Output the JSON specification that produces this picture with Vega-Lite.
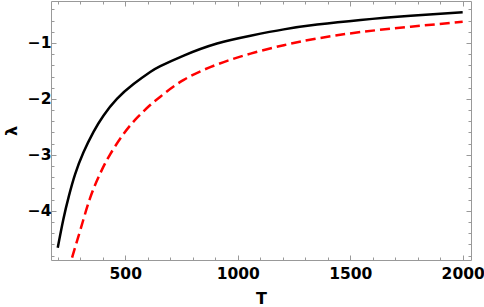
{
  "$schema": "https://vega.github.io/schema/vega-lite/v6.json",
  "width": 420,
  "height": 259,
  "autosize": "none",
  "padding": {"left": 51, "top": 1, "right": 13, "bottom": 47},
  "config": {
    "view": {"stroke": "#999999", "strokeWidth": 1},
    "axis": {
      "domain": false,
      "grid": false,
      "tickColor": "#999999",
      "tickWidth": 1,
      "labelFont": "DejaVu Sans",
      "labelFontWeight": "bold",
      "labelFontSize": 15.5,
      "labelColor": "#000000",
      "titleFont": "DejaVu Sans",
      "titleFontWeight": "bold",
      "titleFontSize": 16,
      "titleColor": "#000000"
    }
  },
  "datasets": {
    "black": [
      {"T": 200, "lam": -4.66},
      {"T": 225, "lam": -4.15},
      {"T": 250, "lam": -3.73},
      {"T": 277, "lam": -3.35},
      {"T": 314, "lam": -2.96},
      {"T": 359, "lam": -2.59},
      {"T": 403, "lam": -2.3},
      {"T": 463, "lam": -2.0},
      {"T": 537, "lam": -1.735},
      {"T": 611, "lam": -1.52},
      {"T": 656, "lam": -1.415},
      {"T": 760, "lam": -1.225},
      {"T": 908, "lam": -1.01},
      {"T": 1057, "lam": -0.87},
      {"T": 1205, "lam": -0.757},
      {"T": 1353, "lam": -0.672},
      {"T": 1546, "lam": -0.59},
      {"T": 1769, "lam": -0.515},
      {"T": 2000, "lam": -0.45}
    ],
    "red": [
      {"T": 250, "lam": -5.1},
      {"T": 263, "lam": -4.85},
      {"T": 300, "lam": -4.35},
      {"T": 344, "lam": -3.77},
      {"T": 389, "lam": -3.33},
      {"T": 433, "lam": -2.99},
      {"T": 492, "lam": -2.63},
      {"T": 552, "lam": -2.34},
      {"T": 611, "lam": -2.11},
      {"T": 656, "lam": -1.96},
      {"T": 760, "lam": -1.66},
      {"T": 908, "lam": -1.385},
      {"T": 1057, "lam": -1.19},
      {"T": 1205, "lam": -1.04},
      {"T": 1353, "lam": -0.92},
      {"T": 1546, "lam": -0.805},
      {"T": 1769, "lam": -0.71},
      {"T": 2000, "lam": -0.62}
    ]
  },
  "resolve": {"axis": {"x": "independent", "y": "independent"}},
  "layer": [
    {
      "data": {"name": "black"},
      "mark": {"type": "line", "color": "#000000", "strokeWidth": 2.5, "interpolate": "natural", "clip": true},
      "encoding": {
        "x": {
          "field": "T", "type": "quantitative",
          "scale": {"domain": [170, 2037], "nice": false, "zero": false},
          "axis": {
            "orient": "bottom", "title": "T",
            "values": [200, 300, 400, 500, 600, 700, 800, 900, 1000, 1100, 1200, 1300, 1400, 1500, 1600, 1700, 1800, 1900, 2000],
            "format": "d",
            "labelExpr": "datum.value % 500 === 0 ? datum.label : ''",
            "tickSize": {"condition": {"test": "datum.value % 500 === 0", "value": -5}, "value": -3},
            "labelPadding": 11,
            "titlePadding": 9
          }
        },
        "y": {
          "field": "lam", "type": "quantitative",
          "scale": {"domain": [-4.88, -0.25], "nice": false, "zero": false},
          "axis": {
            "orient": "left", "title": "λ",
            "values": [-4.8, -4.6, -4.4, -4.2, -4, -3.8, -3.6, -3.4, -3.2, -3, -2.8, -2.6, -2.4, -2.2, -2, -1.8, -1.6, -1.4, -1.2, -1, -0.8, -0.6, -0.4],
            "format": ".0f",
            "labelExpr": "abs(datum.value - round(datum.value)) < 0.001 ? datum.label : ''",
            "tickSize": {"condition": {"test": "abs(datum.value - round(datum.value)) < 0.001", "value": -5}, "value": -3},
            "labelPadding": 5,
            "titlePadding": 8
          }
        }
      }
    },
    {
      "data": {"name": "red"},
      "mark": {"type": "line", "color": "#ff0000", "strokeWidth": 2.5, "strokeDash": [10, 5], "interpolate": "natural", "clip": true},
      "encoding": {
        "x": {
          "field": "T", "type": "quantitative",
          "scale": {"domain": [170, 2037], "nice": false, "zero": false},
          "axis": {
            "orient": "top", "title": null, "labels": false,
            "values": [200, 300, 400, 500, 600, 700, 800, 900, 1000, 1100, 1200, 1300, 1400, 1500, 1600, 1700, 1800, 1900, 2000],
            "tickSize": {"condition": {"test": "datum.value % 500 === 0", "value": -5}, "value": -3}
          }
        },
        "y": {
          "field": "lam", "type": "quantitative",
          "scale": {"domain": [-4.88, -0.25], "nice": false, "zero": false},
          "axis": {
            "orient": "right", "title": null, "labels": false,
            "values": [-4.8, -4.6, -4.4, -4.2, -4, -3.8, -3.6, -3.4, -3.2, -3, -2.8, -2.6, -2.4, -2.2, -2, -1.8, -1.6, -1.4, -1.2, -1, -0.8, -0.6, -0.4],
            "tickSize": {"condition": {"test": "abs(datum.value - round(datum.value)) < 0.001", "value": -5}, "value": -3}
          }
        }
      }
    }
  ]
}
